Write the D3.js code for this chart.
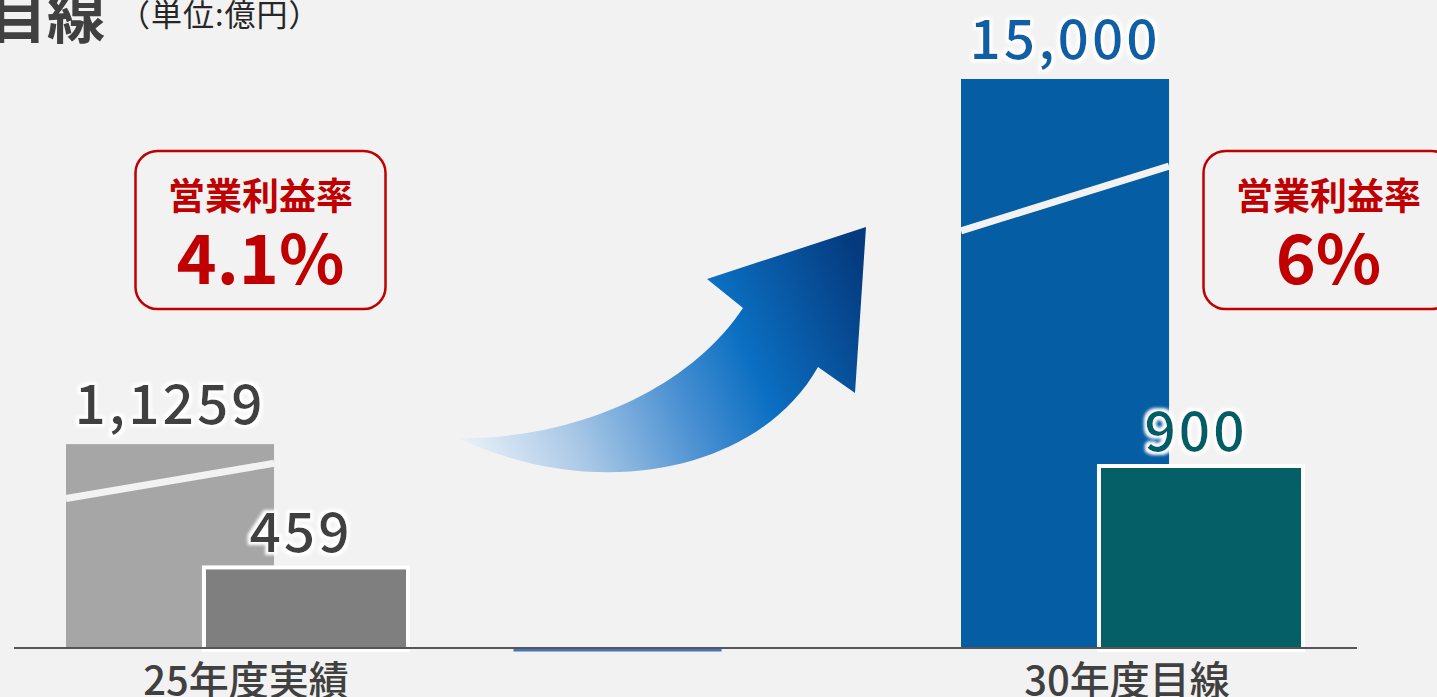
<!DOCTYPE html>
<html>
<head>
<meta charset="utf-8">
<script src="https://cdn.jsdelivr.net/npm/d3@7/dist/d3.min.js"></script>
<style>
  html, body { margin: 0; padding: 0; background: #f2f2f2; overflow: hidden; }
  svg { display: block; }
</style>
</head>
<body>
<svg id="chart" width="1437" height="697"></svg>
<script>
// ---- data ----
const categories = ["25年度実績", "", "30年度目線"];
const salesValues = [11259, 0, 15000];
const profitValues = [459, null, 900];
const salesLabels = ["1,1259", "", "15,000"];
const profitLabels = ["459", "", "900"];
const marginTitle = "営業利益率";
const marginLabels = ["4.1%", null, "6%"];
const titleText = "目線";
const unitText = "（単位:億円）";

// ---- layout / style ----
const W = 1437, H = 697;
const baseY = 648;
const font = "'Noto Sans CJK JP', 'Noto Sans', sans-serif";
const grey = "#404040";
const red = "#c00000";
const salesColors = ["#a6a6a6", "#4775bd", "#055ea3"];
const profitColors = ["#7f7f7f", null, "#045f66"];
const salesLabelColors = [grey, grey, "#0b5fa6"];
const profitLabelColors = [grey, grey, "#045f66"];

const svg = d3.select("#chart");
svg.append("rect").attr("width", W).attr("height", H).attr("fill", "#f2f2f2");

const defs = svg.append("defs");
// white glow for value labels
const glow = defs.append("filter").attr("id", "glow")
  .attr("x", "-20%").attr("y", "-30%").attr("width", "140%").attr("height", "160%");
glow.append("feMorphology").attr("in", "SourceAlpha").attr("operator", "dilate").attr("radius", 2.5).attr("result", "d");
glow.append("feGaussianBlur").attr("in", "d").attr("stdDeviation", 1.8).attr("result", "b");
glow.append("feFlood").attr("flood-color", "#ffffff").attr("result", "f");
glow.append("feComposite").attr("in", "f").attr("in2", "b").attr("operator", "in").attr("result", "g");
const gm = glow.append("feMerge");
gm.append("feMergeNode").attr("in", "g");
gm.append("feMergeNode").attr("in", "SourceGraphic");

// arrow gradient
const grad = defs.append("linearGradient").attr("id", "arrowGrad")
  .attr("gradientUnits", "userSpaceOnUse")
  .attr("x1", 458).attr("y1", 450).attr("x2", 866).attr("y2", 270);
[[0, "#eef3fa"], [0.25, "#a9c8e6"], [0.5, "#4a90d2"], [0.68, "#0b6fc2"], [1, "#053a7e"]]
  .forEach(([o, c]) => grad.append("stop").attr("offset", o).attr("stop-color", c));

// ---- scales ----
const x0 = d3.scaleBand().domain(d3.range(categories.length)).range([66, 1305])
  .paddingInner(0.2313).paddingOuter(0);
const x1 = d3.scaleBand().domain(["sales", "profit"]).range([0, x0.bandwidth()])
  .paddingInner(-0.53).paddingOuter(0);
// broken value axis for sales (break drawn on the bars)
const ySales = d3.scaleLinear().domain([0, 10000, 15000]).range([baseY, 567, 79]);
// truncated axis for profit
const yProfit = d3.scaleLinear().domain([100, 1000]).range([baseY, 441]);

// ---- title ----
svg.append("text").attr("x", 105).attr("y", 38).attr("text-anchor", "end")
  .attr("font-family", font).attr("font-size", 58).attr("font-weight", 700)
  .attr("fill", grey).text(titleText);
svg.append("text").attr("x", 119).attr("y", 26)
  .attr("font-family", font).attr("font-size", 31).attr("font-weight", 400)
  .attr("letter-spacing", 1).attr("fill", "#262626").text(unitText);

// ---- arrow ----
svg.append("path")
  .attr("d", "M458,438 C565,440 685,395 743,308 L707,279 L866,227 L855,393 L818,367 C760,470 600,505 458,438 Z")
  .attr("fill", "url(#arrowGrad)");

// ---- sales bars ----
const breakFrac = [[0.267, 0.094], null, [0.267, 0.153]];
categories.forEach((c, i) => {
  const bx = x0(i) + x1("sales");
  const bw = x1.bandwidth();
  const v = salesValues[i];
  if (v > 0) {
    const top = ySales(v);
    svg.append("rect").attr("x", bx).attr("y", top).attr("width", bw)
      .attr("height", baseY - top).attr("fill", salesColors[i]);
    const h = baseY - top;
    const bf = breakFrac[i];
    svg.append("line").attr("x1", bx).attr("x2", bx + bw)
      .attr("y1", top + bf[0] * h).attr("y2", top + bf[1] * h)
      .attr("stroke", "#f2f2f2").attr("stroke-width", 7);
    svg.append("text").attr("x", bx + bw / 2).attr("y", top - 20)
      .attr("text-anchor", "middle").attr("font-family", font)
      .attr("font-size", 55).attr("font-weight", 500).attr("letter-spacing", 3)
      .attr("fill", salesLabelColors[i]).attr("filter", "url(#glow)")
      .text(salesLabels[i]);
  }
});

// ---- profit bars ----
categories.forEach((c, i) => {
  const v = profitValues[i];
  if (v == null) return;
  const bx = x0(i) + x1("profit");
  const bw = x1.bandwidth();
  const top = yProfit(v);
  svg.append("rect").attr("x", bx + 2).attr("y", top + 2).attr("width", bw - 4)
    .attr("height", baseY - top).attr("fill", profitColors[i])
    .attr("stroke", "#ffffff").attr("stroke-width", 4);
  svg.append("text").attr("x", bx + bw / 2 - 5).attr("y", top - 13)
    .attr("text-anchor", "middle").attr("font-family", font)
    .attr("font-size", 55).attr("font-weight", 500).attr("letter-spacing", 3)
    .attr("fill", profitLabelColors[i]).attr("filter", "url(#glow)")
    .text(profitLabels[i]);
});

// ---- axis line ----
svg.append("line").attr("x1", 14).attr("x2", 1357).attr("y1", baseY).attr("y2", baseY)
  .attr("stroke", "#555555").attr("stroke-width", 2);

// zero-value bar (middle category)
categories.forEach((c, i) => {
  if (salesValues[i] === 0) {
    const bx = x0(i) + x1("sales");
    const top = ySales(salesValues[i]);
    svg.append("rect").attr("x", bx).attr("y", top + 1).attr("width", x1.bandwidth())
      .attr("height", 2.5).attr("fill", salesColors[i]);
  }
});

// ---- category labels ----
const labelCenters = [246, null, 1127];
categories.forEach((c, i) => {
  if (!c) return;
  svg.append("text").attr("x", labelCenters[i]).attr("y", 695)
    .attr("text-anchor", "middle").attr("font-family", font)
    .attr("font-size", 40).attr("font-weight", 500).attr("fill", grey).text(c);
});

// ---- margin boxes ----
const boxCenters = [260.5, null, 1328.5];
marginLabels.forEach((m, i) => {
  if (m == null) return;
  const cx = boxCenters[i];
  svg.append("rect").attr("x", cx - 125).attr("y", 151).attr("width", 250).attr("height", 158)
    .attr("rx", 22).attr("ry", 22).attr("fill", "none")
    .attr("stroke", red).attr("stroke-width", 2.5);
  svg.append("text").attr("x", cx).attr("y", 210).attr("text-anchor", "middle")
    .attr("font-family", font).attr("font-size", 37).attr("font-weight", 700)
    .attr("fill", red).text(marginTitle);
  svg.append("text").attr("x", cx).attr("y", 284).attr("text-anchor", "middle")
    .attr("font-family", font).attr("font-size", 68).attr("font-weight", 700)
    .attr("fill", red).text(m);
});
</script>
</body>
</html>
